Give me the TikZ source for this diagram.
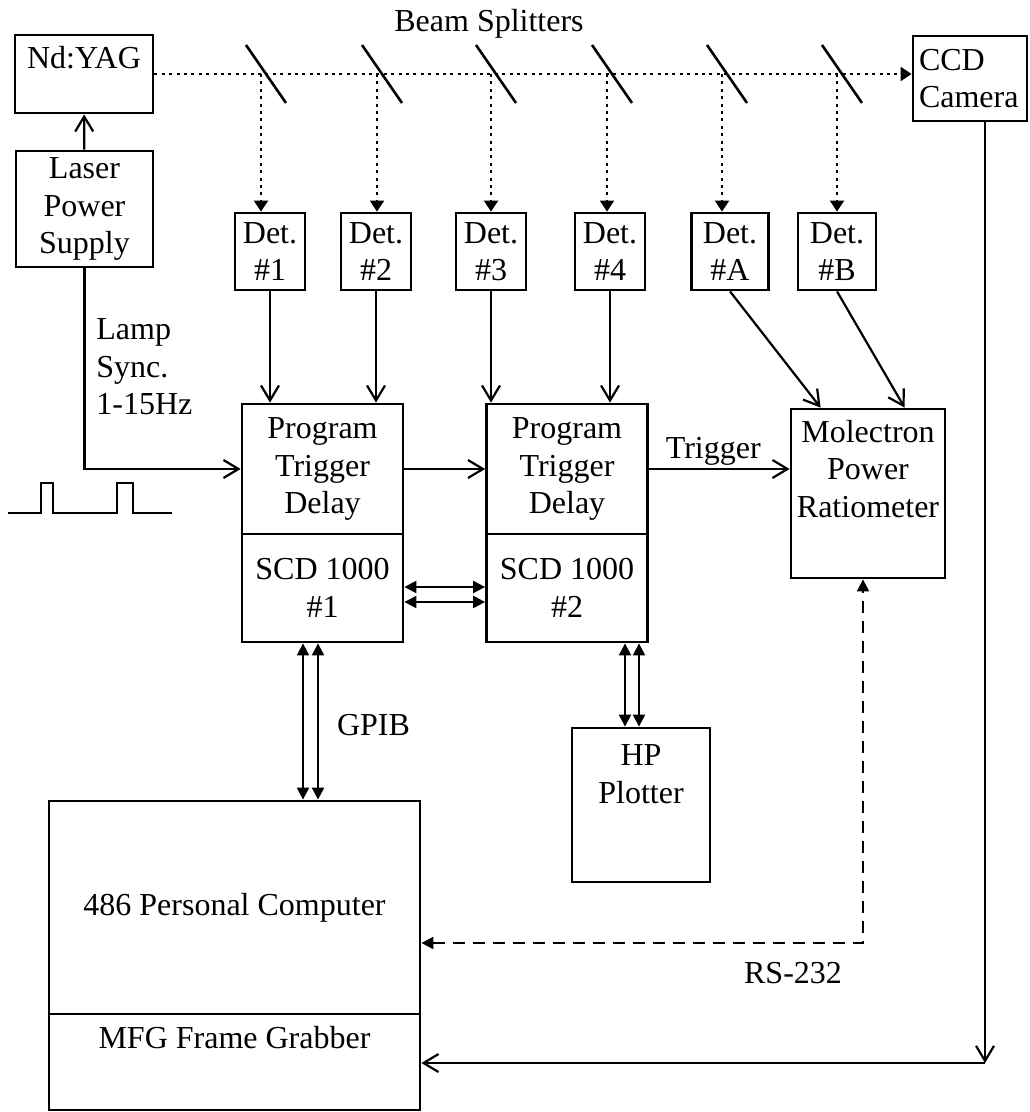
\documentclass[tikz,border=0pt]{standalone}
\usepackage{fontspec}
\setmainfont{Liberation Serif}
\usetikzlibrary{arrows.meta,calc}

\begin{document}
\begin{tikzpicture}[
  x=0.5pt, y=-0.5pt,
  font=\fontsize{16}{18.75}\selectfont,
  box/.style={draw,line width=1.4pt,align=center,inner sep=3pt},
  txt/.style={align=center,inner sep=0pt},
  conn/.style={line width=1.1pt,-{Straight Barb[length=7.5pt,width=9pt]}},
  beam/.style={line width=1pt,dash pattern=on 1.5pt off 2.2pt,-{Triangle[length=5.5pt,width=7pt]}},
  bus/.style={line width=1.1pt,{Triangle[length=6pt,width=6pt]}-{Triangle[length=6pt,width=6pt]}},
  serial/.style={line width=1.1pt,dash pattern=on 6pt off 4pt,{Triangle[length=6pt,width=6pt]}-{Triangle[length=6pt,width=6pt]}},
  splitter/.style={line width=1.3pt},
]
\useasboundingbox (0,0) rectangle (1029,1112);
% laser and camera
\node[box,minimum width=69pt,text height=14pt,text depth=19pt] (yag) at (84,74) {Nd:YAG};
\node[box,minimum width=68.5pt,minimum height=58pt] (lps) at (84.5,209) {Laser\\Power\\Supply};
\node[box,text width=51pt,align=left,minimum height=42.5pt] (ccd) at (970,78.5) {CCD\\Camera};
\draw[conn] (lps) -- (yag);
\draw[beam] (yag.east) -- (yag.east -| ccd.west);
\node[anchor=base] (bsl) at (489,32) {Beam Splitters};
% detectors and splitters
\foreach \n/\x/\w in {1/270/35, 2/376/35, 3/491/35, 4/610/35, A/730/38.5, B/837/39}
  \node[box,minimum width=\w pt,minimum height=38.5pt] (d\n) at (\x,251.5) {Det.\\\#\n};
\foreach \n/\d/\x in {1/1/261, 2/2/377, 3/3/491, 4/4/607, 5/A/722, 6/B/837}{
  \coordinate (s\n) at (\x,74);
  \draw[splitter] ($(s\n)+(-15,-29)$) -- ($(s\n)+(25,29)$);
  \draw[beam] (s\n) -- (s\n |- d\d.north);
}
% delay generators
\foreach \n/\x in {1/322.5, 2/567}{
  \node[box,minimum width=80.5pt,minimum height=65pt] (ptd\n) at (\x,469) {Program\\Trigger\\Delay};
  \node[box,minimum width=80.5pt,minimum height=54pt,anchor=north] (scd\n) at ($(ptd\n.south)+(0,-2.8)$) {SCD 1000\\\#\n};
}
\foreach \d/\p in {1/1, 2/1, 3/2, 4/2}
  \draw[conn] (d\d) -- (d\d |- ptd\p.north);
% ratiometer
\node[box,minimum width=77pt,minimum height=84.5pt] (mol) at (868,493.5) {};
\node[txt,anchor=north] (molt) at ($(mol.north)+(0,12)$) {Molectron\\Power\\Ratiometer};
\draw[conn] (dA.south) -- ($(mol.north west)+(31,0)$);
\draw[conn] (dB.south) -- ($(mol.north west)+(115,0)$);
% lamp sync
\draw[conn] (lps.south) |- (ptd1.west);
\node[txt,align=left,anchor=west] (lamp) at (96,367) {Lamp\\Sync.\\1-15Hz};
\draw[line width=1.3pt] (8,513) -| (41,483) -| (53,513) -| (117,483) -| (133,513) -- (172,513);
\draw[conn] (ptd1) -- (ptd2);
\draw[conn] (ptd2.east) -- (ptd2.east -| mol.west) node[midway,above,inner sep=1pt,xshift=-3pt] (trig) {Trigger};
% buses
\draw[bus] ($(scd1.east)+(0,-1)$) -- ($(scd2.west)+(0,-1)$);
\draw[bus] ($(scd1.east)+(0,14)$) -- ($(scd2.west)+(0,14)$);
\node[box,minimum width=69pt,minimum height=77pt] (hp) at (641,805) {};
\node[txt,anchor=north] (hpt) at ($(hp.north)+(0,18)$) {HP\\Plotter};
\draw[bus] ($(scd2.south)+(58,0)$) -- ($(hp.north)+(-16,0)$);
\draw[bus] ($(scd2.south)+(72,0)$) -- ($(hp.north)+(-2,0)$);
% computer
\node[box,minimum width=185.5pt,minimum height=106.5pt] (pc) at (234.5,907.5) {486 Personal Computer};
\node[box,minimum width=185.5pt,text height=14pt,text depth=28pt,anchor=north] (fg) at ($(pc.south)+(0,-2.8)$) {MFG Frame Grabber};
\draw[bus] ($(scd1.south)+(-19.5,0)$) -- ($(pc.north)+(68.5,0)$);
\draw[bus] ($(scd1.south)+(-4.5,0)$) -- ($(pc.north)+(83.5,0)$);
\node[anchor=base west] (gpib) at (330,735) {GPIB};
\coordinate (rs) at (863,943);
\draw[serial] (rs -| pc.east) -- (rs) -- (rs |- mol.south);
\node[anchor=base] (rsl) at (793,983) {RS-232};
\coordinate (cc) at (985,1063);
\draw[conn] (ccd.south -| cc) -- (cc);
\draw[conn] (cc) -- (cc -| fg.east);
\end{tikzpicture}
\end{document}
